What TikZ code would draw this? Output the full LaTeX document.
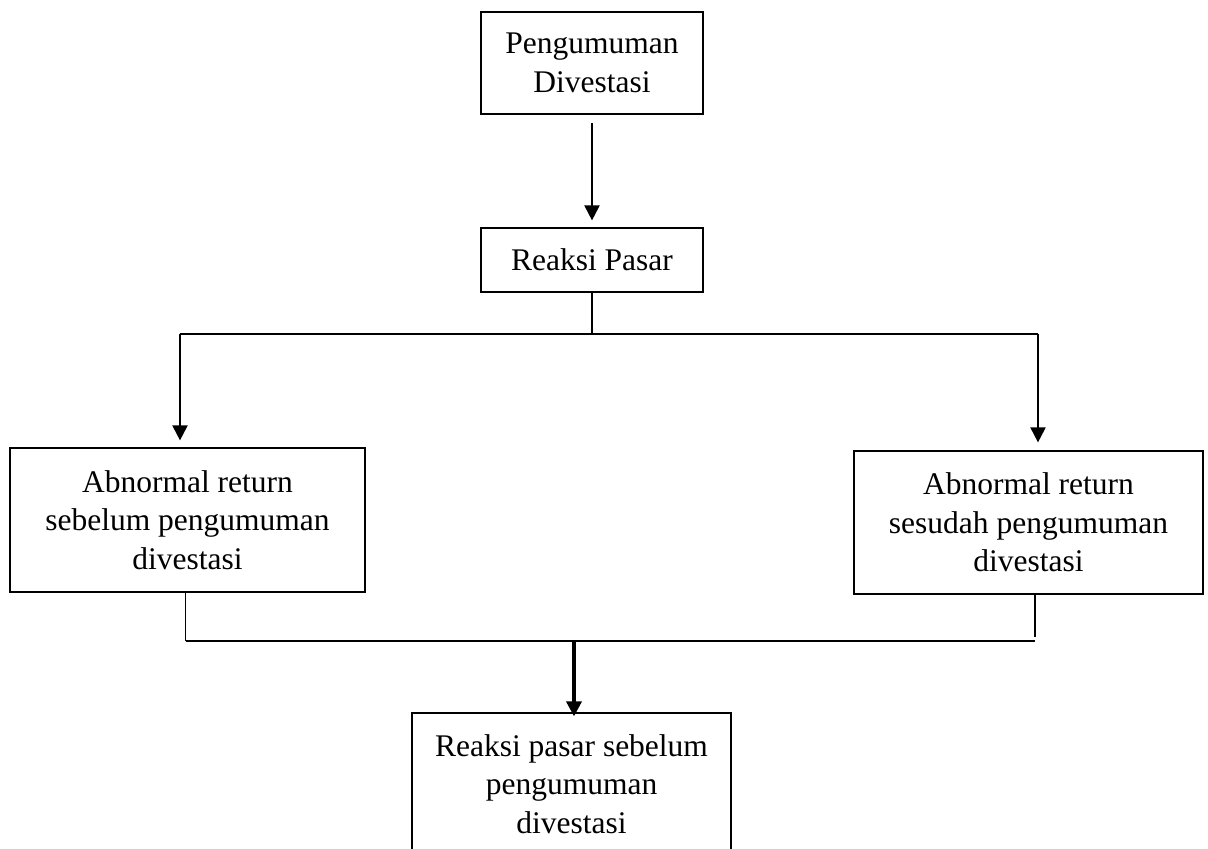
\documentclass[tikz,border=0pt]{standalone}
\usepackage{fontspec}
\setmainfont{Liberation Serif}
\usetikzlibrary{arrows.meta}

\begin{document}
\begin{tikzpicture}
  [x=1pt, y=-1pt, line width=2pt,
   every node/.style={rectangle,draw,line width=1.2pt,align=center,
     font=\fontsize{31.5}{38.5}\selectfont},
   arr/.style={-{Triangle[length=15pt,width=15pt]}}]
  \useasboundingbox (0,0) rectangle (1208,849);

  \node [minimum width=222, minimum height=102] (umum) at (592,63) {Pengumuman\\Divestasi};
  \node [minimum width=222, minimum height=64] (pasar) at (592,260) {Reaksi Pasar};
  \node [minimum width=355, minimum height=144] (arsebelum) at (187.5,520) {Abnormal return\\sebelum pengumuman\\divestasi};
  \node [minimum width=349, minimum height=143] (arsesudah) at (1028.5,522.5) {Abnormal return\\sesudah pengumuman\\divestasi};
  \node [minimum width=319, minimum height=142] (hasil) at (571.5,784) {Reaksi pasar sebelum\\pengumuman\\divestasi};

  \coordinate (j1) at (592,334);
  \coordinate (j1l) at (180,334);
  \coordinate (j1r) at (1038,334);
  \coordinate (j2l) at (185.5,640.5);
  \coordinate (j2r) at (1035,640.5);
  \coordinate (j2) at (574,640.5);

  % pengumuman to reaksi pasar
  \draw [arr, shorten <=8pt, shorten >=7pt] (umum.south) -- (pasar.north);

  % reaksi pasar split
  \draw [line width=1.3pt] (pasar.south) -- (j1);
  \draw (j1l) -- (j1r);
  \draw [arr, shorten >=7pt] (j1l) -- (j1l |- arsebelum.north);
  \draw [arr, shorten >=8pt] (j1r) -- (j1r |- arsesudah.north);

  % abnormal return join
  \draw [line width=1.3pt] (arsebelum.south -| j2l) -- (j2l);
  \draw [line width=1.3pt] (arsesudah.south -| j2r) -- ([yshift=4pt]j2r);
  \draw (j2l) -- (j2r);
  \draw [arr, line width=3.5pt, shorten >=-4pt] (j2) -- (j2 |- hasil.north);
\end{tikzpicture}
\end{document}
